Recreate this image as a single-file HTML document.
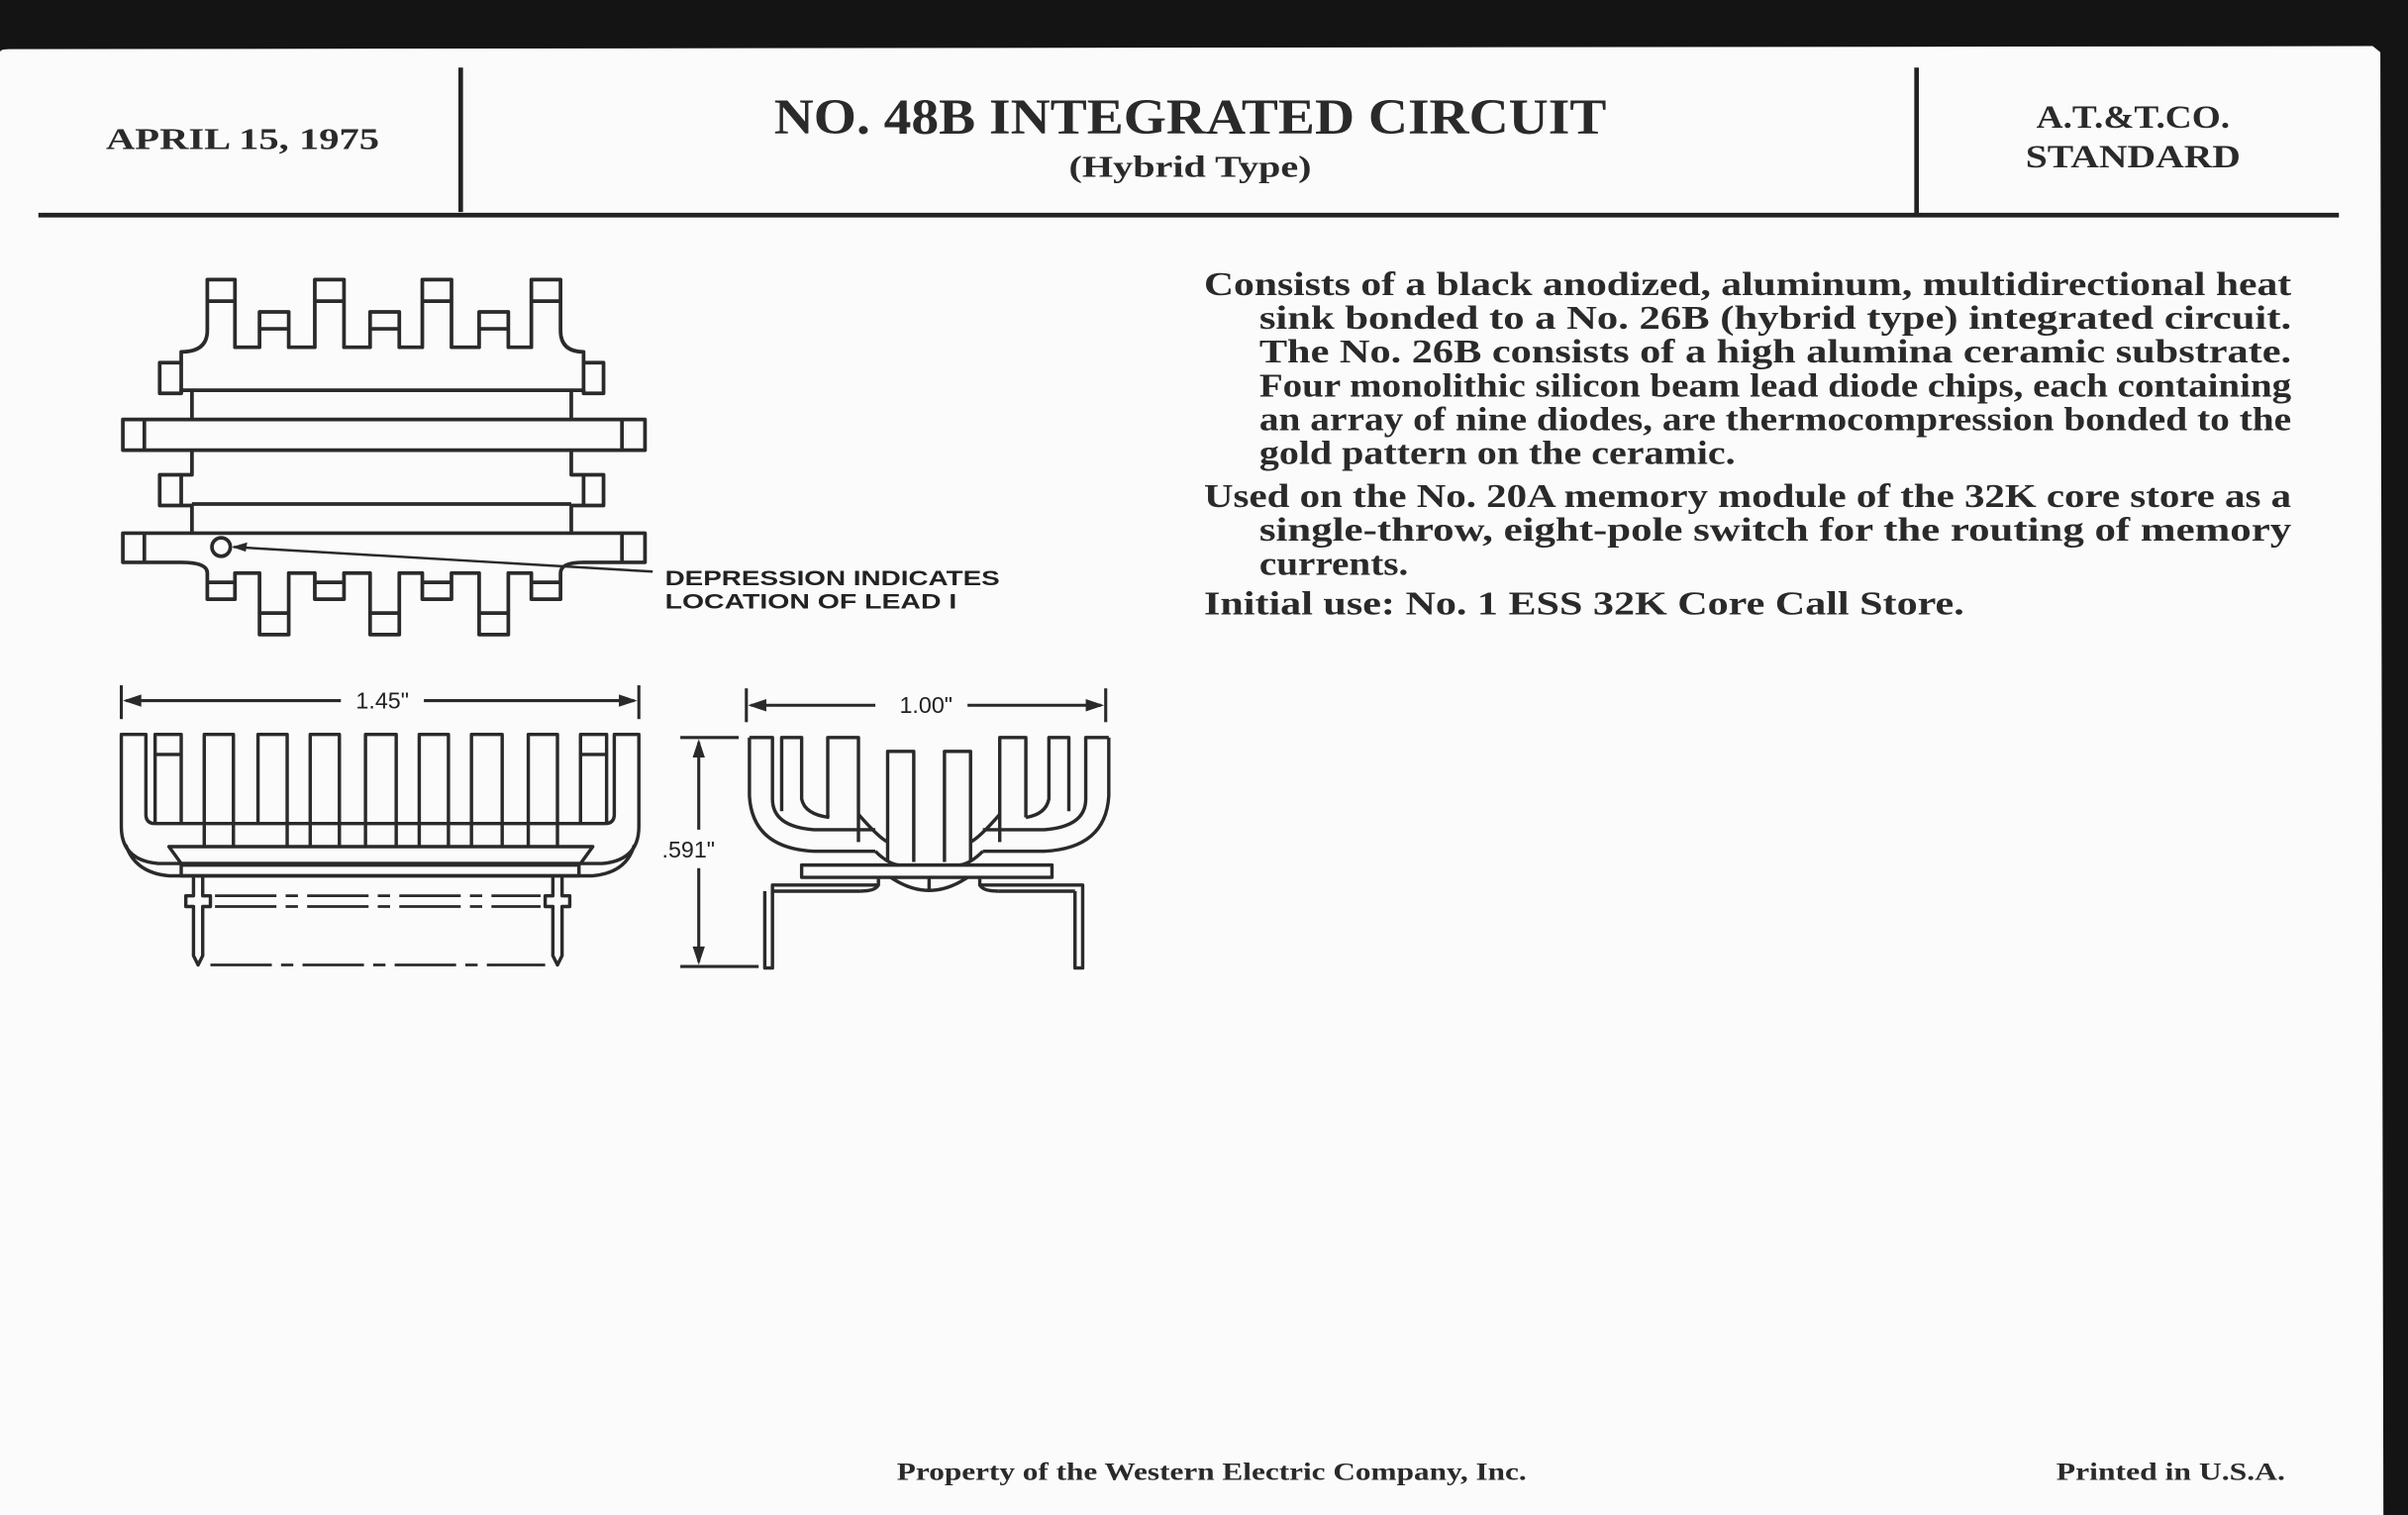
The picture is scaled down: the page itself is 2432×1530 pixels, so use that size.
<!DOCTYPE html>
<html><head><meta charset="utf-8"><style>
html,body{margin:0;padding:0;background:#111;}
svg{display:block;}
.s{font-family:"Liberation Serif",serif;font-weight:bold;fill:#2a2a2a;}
.d{font-family:"Liberation Sans",sans-serif;fill:#222;}
</style></head><body>
<svg width="2432" height="1530" viewBox="0 0 1568 986" preserveAspectRatio="none" xmlns="http://www.w3.org/2000/svg">
<rect x="0" y="0" width="1568" height="986" fill="#141414"/>
<path d="M0,34 Q0,32 6,32 L1545,30 L1550,34 L1552,986 L0,986 Z" fill="#fbfbfb"/>
<!-- header -->
<line x1="25" y1="140" x2="1523" y2="140" stroke="#222" stroke-width="3"/>
<line x1="300" y1="44" x2="300" y2="138" stroke="#222" stroke-width="3"/>
<line x1="1248" y1="44" x2="1248" y2="140" stroke="#222" stroke-width="3"/>
<text class="s" x="158" y="97" font-size="20" text-anchor="middle" textLength="178" lengthAdjust="spacingAndGlyphs">APRIL 15, 1975</text>
<text class="s" x="775" y="87" font-size="33" text-anchor="middle" textLength="542" lengthAdjust="spacingAndGlyphs">NO. 48B INTEGRATED CIRCUIT</text>
<text class="s" x="775" y="115" font-size="20" text-anchor="middle" textLength="158" lengthAdjust="spacingAndGlyphs">(Hybrid Type)</text>
<text class="s" x="1389" y="83" font-size="21" text-anchor="middle" textLength="126" lengthAdjust="spacingAndGlyphs">A.T.&amp;T.CO.</text>
<text class="s" x="1389" y="109" font-size="21" text-anchor="middle" textLength="140" lengthAdjust="spacingAndGlyphs">STANDARD</text>
<!-- body text -->
<g class="s" font-size="22">
<text x="784" y="192" textLength="708" lengthAdjust="spacingAndGlyphs">Consists of a black anodized, aluminum, multidirectional heat</text>
<text x="820" y="214" textLength="672" lengthAdjust="spacingAndGlyphs">sink bonded to a No. 26B (hybrid type) integrated circuit.</text>
<text x="820" y="236" textLength="672" lengthAdjust="spacingAndGlyphs">The No. 26B consists of a high alumina ceramic substrate.</text>
<text x="820" y="258" textLength="672" lengthAdjust="spacingAndGlyphs">Four monolithic silicon beam lead diode chips, each containing</text>
<text x="820" y="280" textLength="672" lengthAdjust="spacingAndGlyphs">an array of nine diodes, are thermocompression bonded to the</text>
<text x="820" y="302" textLength="310" lengthAdjust="spacingAndGlyphs">gold pattern on the ceramic.</text>
<text x="784" y="330" textLength="708" lengthAdjust="spacingAndGlyphs">Used on the No. 20A memory module of the 32K core store as a</text>
<text x="820" y="352" textLength="672" lengthAdjust="spacingAndGlyphs">single-throw, eight-pole switch for the routing of memory</text>
<text x="820" y="374" textLength="97" lengthAdjust="spacingAndGlyphs">currents.</text>
<text x="784" y="400" textLength="495" lengthAdjust="spacingAndGlyphs">Initial use:  No. 1 ESS 32K Core Call Store.</text>
</g>
<text class="s" x="789" y="963" font-size="16" text-anchor="middle" textLength="410" lengthAdjust="spacingAndGlyphs">Property of the Western Electric Company, Inc.</text>
<text class="s" x="1488" y="963" font-size="16" text-anchor="end" textLength="149" lengthAdjust="spacingAndGlyphs">Printed in U.S.A.</text>

<!-- top view -->
<g fill="none" stroke="#2a2a2a" stroke-width="2.4" stroke-linejoin="round">
<path d="M118,236 V229 Q135,229 135,215 V182 H153 V226 H169 V203 H188 V226 H205 V182 H224 V226 H241 V203 H260 V226 H275 V182 H294 V226 H312 V203 H331 V226 H346 V182 H365 V215 Q365,229 380,229 V236 H393 V256 H380 V254 H118 V256 H104 V236 Z"/>
<line x1="135" y1="196" x2="153" y2="196"/><line x1="205" y1="196" x2="224" y2="196"/><line x1="275" y1="196" x2="294" y2="196"/><line x1="346" y1="196" x2="365" y2="196"/>
<line x1="169" y1="214" x2="188" y2="214"/><line x1="241" y1="214" x2="260" y2="214"/><line x1="312" y1="214" x2="331" y2="214"/>
<line x1="118" y1="236" x2="118" y2="256"/><line x1="380" y1="236" x2="380" y2="256"/>
<line x1="125" y1="255" x2="125" y2="273"/><line x1="372" y1="255" x2="372" y2="273"/>
<rect x="80" y="273" width="340" height="20"/>
<line x1="94" y1="273" x2="94" y2="293"/><line x1="405" y1="273" x2="405" y2="293"/>
<path d="M125,293 V309 H104 V329 H125 V347 M372,293 V309 H393 V329 H372 V347"/>
<line x1="118" y1="309" x2="118" y2="329"/><line x1="380" y1="309" x2="380" y2="329"/>
<line x1="125" y1="328" x2="372" y2="328"/>
<path d="M80,347 H420 V366 H380 Q365,366 365,373 V390 H346 V373 H331 V413 H312 V373 H294 V390 H275 V373 H260 V413 H241 V373 H224 V390 H205 V373 H188 V413 H169 V373 H153 V390 H135 V373 Q135,366 118,366 H80 Z"/>
<line x1="94" y1="347" x2="94" y2="366"/><line x1="405" y1="347" x2="405" y2="366"/>
<line x1="135" y1="379" x2="153" y2="379"/><line x1="205" y1="379" x2="224" y2="379"/><line x1="275" y1="379" x2="294" y2="379"/><line x1="346" y1="379" x2="365" y2="379"/>
<line x1="169" y1="399" x2="188" y2="399"/><line x1="241" y1="399" x2="260" y2="399"/><line x1="312" y1="399" x2="331" y2="399"/>
<circle cx="144" cy="356" r="6"/>
</g>
<line x1="152" y1="356" x2="425" y2="372" stroke="#2a2a2a" stroke-width="1.6"/>
<path d="M151,356 L161,353 L160,359 Z" fill="#2a2a2a"/>
<text class="d" x="433" y="381" font-size="14" font-weight="bold" textLength="218" lengthAdjust="spacingAndGlyphs">DEPRESSION INDICATES</text>
<text class="d" x="433" y="396" font-size="14" font-weight="bold" textLength="190" lengthAdjust="spacingAndGlyphs">LOCATION OF LEAD I</text>

<!-- side view left -->
<g fill="none" stroke="#2a2a2a" stroke-width="2">
<line x1="79" y1="446" x2="79" y2="468"/><line x1="416" y1="446" x2="416" y2="468"/>
<line x1="82" y1="456" x2="222" y2="456"/><line x1="276" y1="456" x2="413" y2="456"/>
</g>
<path d="M80,456 L92,452 L92,460 Z M415,456 L403,452 L403,460 Z" fill="#2a2a2a"/>
<text class="d" x="249" y="461" font-size="15" text-anchor="middle">1.45"</text>
<g fill="none" stroke="#2a2a2a" stroke-width="2.2" stroke-linejoin="round">
<path d="M79,478 H95 V530 Q95,536 101,536 H394 Q400,536 400,530 V478 H416 V538 Q416,560 392,562 H103 Q79,560 79,538 Z"/>
<path d="M82,550 Q88,568 110,570 H386 Q408,568 413,550"/>
<path d="M101,536 V478 H118 V536 M378,536 V478 H395 V536"/>
<line x1="101" y1="491" x2="118" y2="491"/><line x1="378" y1="491" x2="395" y2="491"/>
<path d="M133,550 V478 H152 V550 M168,536 V478 H187 V550 M202,550 V478 H221 V550 M238,550 V478 H258 V550 M273,550 V478 H292 V550 M307,550 V478 H327 V550 M344,550 V478 H363 V550"/>
<path d="M110,551 H386 L378,562 H118 Z"/>
<rect x="118" y="563" width="259" height="7"/>
<path d="M126,570 V583 H121 V590 H126 V622 L129,628 L132,622 V590 H137 V583 H132 V570"/>
<path d="M360,570 V583 H355 V590 H360 V622 L363,628 L366,622 V590 H371 V583 H366 V570"/>
</g>
<g stroke="#2a2a2a" stroke-width="1.8" stroke-dasharray="40,6,8,6">
<line x1="140" y1="583" x2="352" y2="583"/><line x1="140" y1="590" x2="352" y2="590"/><line x1="137" y1="628" x2="355" y2="628"/>
</g>

<!-- side view right -->
<g fill="none" stroke="#2a2a2a" stroke-width="2">
<line x1="486" y1="448" x2="486" y2="470"/><line x1="720" y1="448" x2="720" y2="470"/>
<line x1="489" y1="459" x2="570" y2="459"/><line x1="630" y1="459" x2="717" y2="459"/>
<line x1="443" y1="480" x2="481" y2="480"/><line x1="443" y1="629" x2="494" y2="629"/>
<line x1="455" y1="483" x2="455" y2="540"/><line x1="455" y1="565" x2="455" y2="626"/>
</g>
<path d="M487,459 L499,455 L499,463 Z M719,459 L707,455 L707,463 Z M455,481 L451,493 L459,493 Z M455,628 L451,616 L459,616 Z" fill="#2a2a2a"/>
<text class="d" x="603" y="464" font-size="15" text-anchor="middle">1.00"</text>
<text class="d" x="431" y="558" font-size="15">.591"</text>
<g fill="none" stroke="#2a2a2a" stroke-width="2.2" stroke-linejoin="round">
<path d="M488,480 H503 V520 Q503,538 530,540 H570 M722,480 H707 V520 Q707,538 680,540 H640"/>
<path d="M488,480 V518 Q490,552 530,554 H570 M722,480 V518 Q720,552 680,554 H640"/>
<path d="M509,528 V480 H522 V520 Q524,530 540,532 M696,528 V480 H683 V520 Q681,530 668,532"/>
<path d="M539,532 V480 H559 V548 M668,532 V480 H651 V548"/>
<path d="M559,530 Q572,545 578,548 M651,530 Q638,545 632,548"/>
<path d="M570,554 Q578,562 585,563 M640,554 Q632,562 625,563"/>
<path d="M578,561 V489 H595 V561 M615,561 V489 H632 V561"/>
<rect x="522" y="563" width="163" height="8"/>
<path d="M580,571 Q605,588 630,571"/>
<line x1="605" y1="571" x2="605" y2="580"/>
<path d="M572,572 V576 H503 V630 H498 V580 M572,576 Q570,580 560,580"/>
<path d="M638,572 V576 H705 V630 H700 V580 M638,576 Q640,580 650,580"/>
<path d="M503,580 H560 M700,580 H650"/>
</g>
</svg>
</body></html>
